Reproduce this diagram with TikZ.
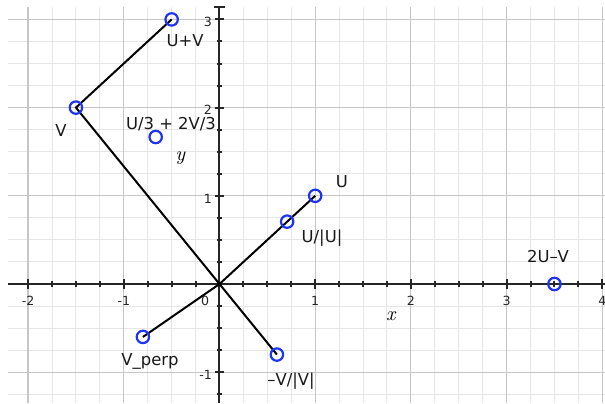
\documentclass[tikz,border=0pt]{standalone}
\usepackage{fontspec}
\setsansfont{DejaVu Sans}
\usepackage{tikz}
\usetikzlibrary{calc,positioning}
\definecolor{gridmaj}{HTML}{C6C6C6}
\definecolor{gridmin}{HTML}{E6E6E6}
\definecolor{ptc}{HTML}{1F33F2}
\definecolor{axc}{HTML}{262626}
\tikzset{
  seg/.style={line width=1pt,black},
  pt/.style={circle,draw=ptc,line width=1.1pt,inner sep=0pt,minimum size=6.2pt},
  lbl/.style={font=\sffamily\fontsize{8.2}{9}\selectfont,text=black!90,inner sep=0pt},
  tk/.style={font=\sffamily\fontsize{6.3}{7}\selectfont,text=black!85,inner sep=0pt},
  axlbl/.style={font=\itshape\fontsize{10}{11}\selectfont,inner sep=0pt},
  ax/.style={line width=1pt,axc}
}
\begin{document}
\begin{tikzpicture}[x=47.85pt,y=44.1pt]
\useasboundingbox (-2.2936,-1.3492) rectangle (4.0282,3.2200);
% grid
\foreach \i in {-8,...,16}{
  \pgfmathsetmacro{\gx}{\i/4}
  \draw[gridmin,line width=0.5pt] (\gx,-1.3492) -- (\gx,3.14);}
\foreach \j in {-5,...,12}{
  \pgfmathsetmacro{\gy}{\j/4}
  \draw[gridmin,line width=0.5pt] (-2.21,\gy) -- (4.0282,\gy);}
\foreach \k in {-2,...,4}
  \draw[gridmaj,line width=0.6pt] (\k,-1.3492) -- (\k,3.14);
\foreach \k in {-1,...,3}
  \draw[gridmaj,line width=0.6pt] (-2.21,\k) -- (4.0282,\k);
% axes
\draw[ax] (-2.21,0) -- (4.0282,0);
\draw[ax] (0,-1.3492) -- (0,3.14);
\draw[ax] (-0.055,3.14) -- (0.055,3.14);
\foreach \i in {-8,...,16}{
  \pgfmathsetmacro{\gx}{\i/4}
  \draw[ax] (\gx,-0.03) -- (\gx,0.03);}
\foreach \j in {-5,...,12}{
  \pgfmathsetmacro{\gy}{\j/4}
  \draw[ax] (-0.027,\gy) -- (0.027,\gy);}
\foreach \k in {-2,...,4}
  \draw[ax] (\k,-0.055) -- (\k,0.055);
\foreach \k in {-1,...,3}
  \draw[ax] (-0.05,\k) -- (0.05,\k);
% tick labels
\foreach \k in {-2,-1,1,2,3,4}
  \node[tk] (tx\k) at (\k,-0.19) {\k};
\node[tk] (tx0) at (-0.15,-0.19) {0};
\foreach \k in {-1,1,2,3}
  \node[tk,anchor=east] (ty\k) at (-0.075,\k-0.03) {\k};
\node[axlbl] (xl) at (1.79,-0.37) {x};
\node[axlbl] (yl) at (-0.41,1.43) {y};
% points
\coordinate (O) at (0,0);
\coordinate (U) at (1,1);
\coordinate (V) at (-1.5,2);
\coordinate (UV) at (-0.5,3);
\coordinate (Uh) at (0.7071,0.7071);
\coordinate (mVh) at (0.6,-0.8);
\coordinate (Vp) at (-0.8,-0.6);
\coordinate (W) at (3.5,0);
\coordinate (M) at (-0.6667,1.6667);
\draw[seg] (O) -- (U);
\draw[seg] (mVh) -- (V) -- (UV);
\draw[seg] (O) -- (Vp);
\foreach \p in {U,V,UV,Uh,mVh,Vp,W,M}
  \node[pt] (c\p) at (\p) {};
% labels
\node[lbl] (lUV) at (-0.36,2.755) {U+V};
\node[lbl] (lV) at (-1.656,1.735) {V};
\node[lbl] (lM) at (-0.507,1.814) {U/3 + 2V/3};
\node[lbl] (lU) at (1.28,1.156) {U};
\node[lbl] (lUh) at (1.071,0.522) {U/|U|};
\node[lbl] (lW) at (3.433,0.317) {2U–V};
\node[lbl] (lVp) at (-0.726,-0.873) {V\_perp};
\node[lbl] (lmVh) at (0.747,-1.10) {–V/|V|};
\end{tikzpicture}
\end{document}
